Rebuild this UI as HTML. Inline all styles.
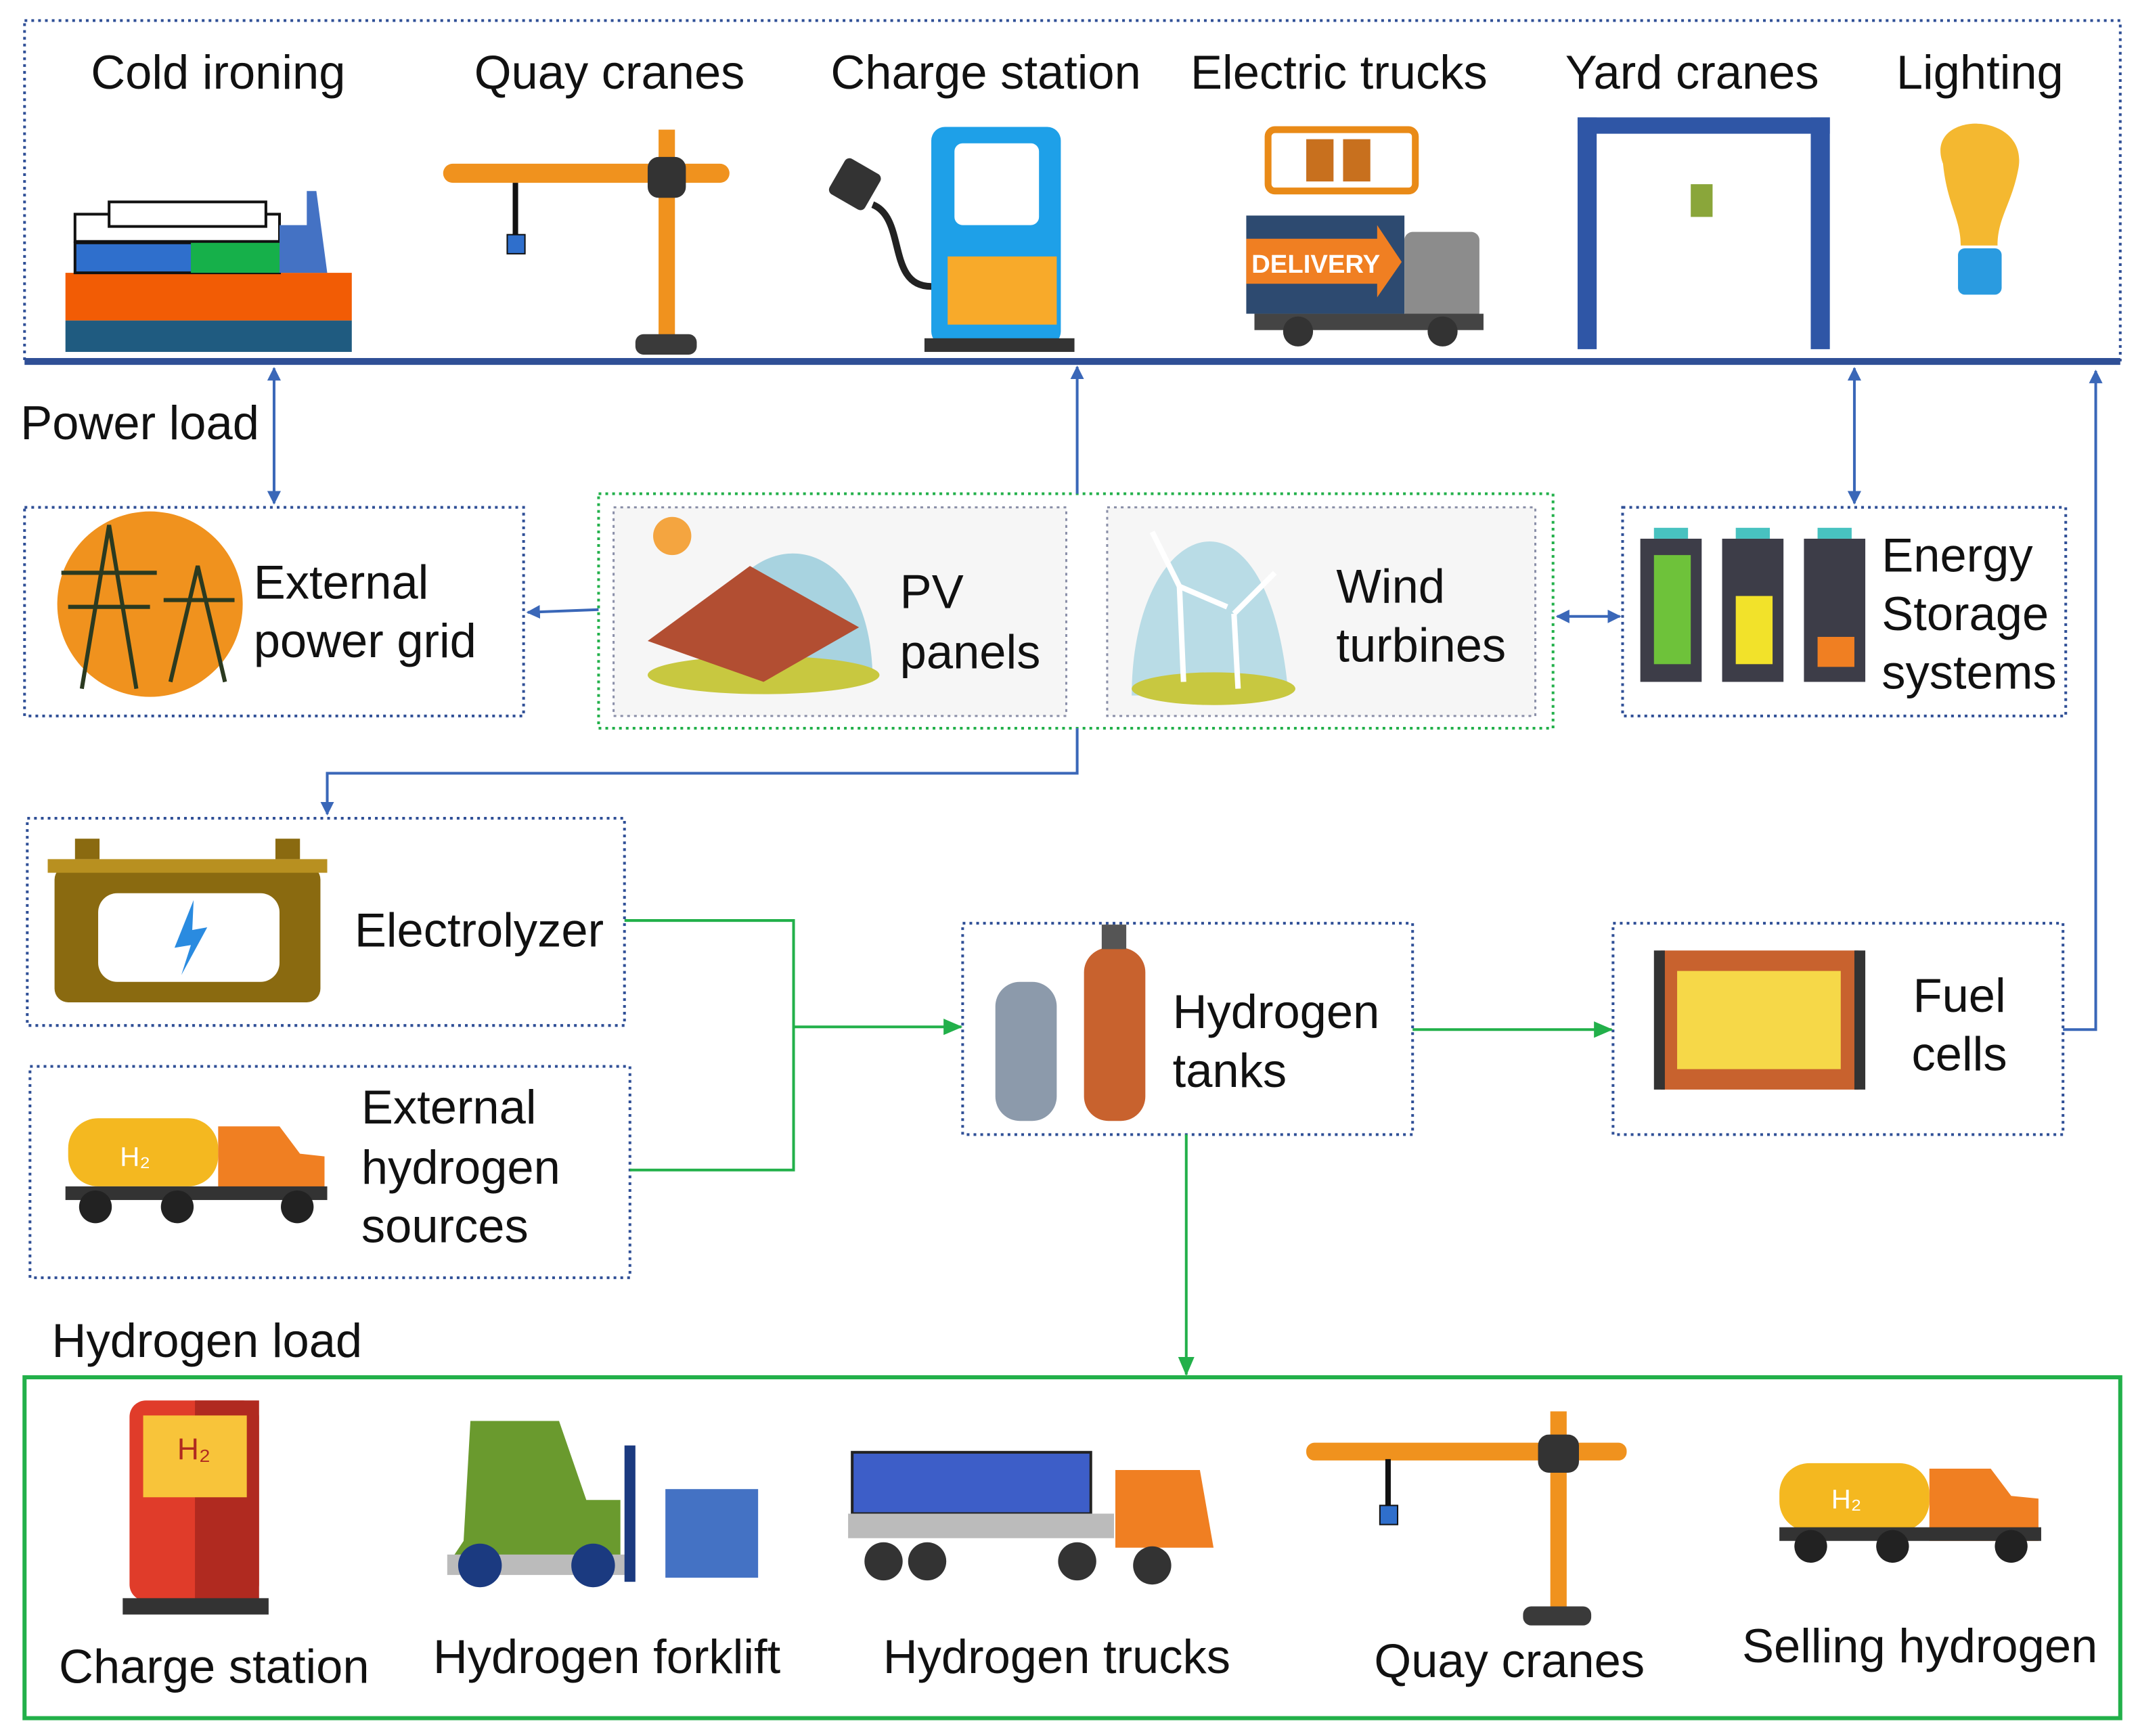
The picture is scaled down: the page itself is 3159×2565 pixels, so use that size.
<!DOCTYPE html>
<html><head><meta charset="utf-8"><style>
html,body{margin:0;padding:0;background:#fff}
svg{display:block}
text{font-family:"Liberation Sans",Arial,sans-serif;fill:#111}
</style></head><body>
<svg width="3159" height="2565" viewBox="0 0 1568 1273" xmlns="http://www.w3.org/2000/svg">
<defs>
<marker id="ab" markerWidth="10" markerHeight="10" refX="9" refY="5" orient="auto-start-reverse" markerUnits="userSpaceOnUse"><path d="M0,0 L10,5 L0,10 z" fill="#3a67b8"/></marker>
<marker id="ag" markerWidth="14" markerHeight="12" refX="13" refY="6" orient="auto" markerUnits="userSpaceOnUse"><path d="M0,0 L14,6 L0,12 z" fill="#22b04a"/></marker>
</defs>
<g fill="none" stroke="#2f4f96" stroke-width="2" stroke-dasharray="2,3">
<rect x="18" y="15" width="1537" height="250"/>
<rect x="18" y="372" width="366" height="153"/>
<rect x="1190" y="372" width="325" height="153"/>
<rect x="20" y="600" width="438" height="152"/>
<rect x="22" y="782" width="440" height="155"/>
<rect x="706" y="677" width="330" height="155"/>
<rect x="1183" y="677" width="330" height="155"/>
</g>
<rect x="439" y="362" width="700" height="172" fill="none" stroke="#22b04a" stroke-width="2" stroke-dasharray="2,3"/>
<rect x="450" y="372" width="332" height="153" fill="#f6f6f6" stroke="#8a8fa8" stroke-width="1.5" stroke-dasharray="2,3"/>
<rect x="812" y="372" width="314" height="153" fill="#f6f6f6" stroke="#8a8fa8" stroke-width="1.5" stroke-dasharray="2,3"/>
<line x1="18" y1="265" x2="1555" y2="265" stroke="#2f4f96" stroke-width="5"/>
<rect x="18" y="1010" width="1537" height="250" fill="none" stroke="#22b04a" stroke-width="3"/>
<g stroke="#3a67b8" stroke-width="2" fill="none">
<line x1="201" y1="270" x2="201" y2="369" marker-start="url(#ab)" marker-end="url(#ab)"/>
<line x1="790" y1="362" x2="790" y2="269" marker-end="url(#ab)"/>
<line x1="1360" y1="270" x2="1360" y2="369" marker-start="url(#ab)" marker-end="url(#ab)"/>
<polyline points="1513,755 1537,755 1537,272" marker-end="url(#ab)"/>
<line x1="439" y1="447" x2="387" y2="449" marker-end="url(#ab)"/>
<line x1="1142" y1="452" x2="1188" y2="452" marker-start="url(#ab)" marker-end="url(#ab)"/>
<polyline points="790,534 790,567 240,567 240,597" marker-end="url(#ab)"/>
</g>
<g stroke="#22b04a" stroke-width="2" fill="none">
<polyline points="458,675 582,675 582,858 462,858"/>
<line x1="582" y1="753" x2="705" y2="753" marker-end="url(#ag)"/>
<line x1="1036" y1="755" x2="1182" y2="755" marker-end="url(#ag)"/>
<line x1="870" y1="832" x2="870" y2="1008" marker-end="url(#ag)"/>
</g>
<g font-size="35" text-anchor="middle">
<text x="160" y="65">Cold ironing</text>
<text x="447" y="65">Quay cranes</text>
<text x="723" y="65">Charge station</text>
<text x="982" y="65">Electric trucks</text>
<text x="1241" y="65">Yard cranes</text>
<text x="1452" y="65">Lighting</text>
<text x="157" y="1234">Charge station</text>
<text x="445" y="1227">Hydrogen forklift</text>
<text x="775" y="1227">Hydrogen trucks</text>
<text x="1107" y="1230">Quay cranes</text>
<text x="1408" y="1219">Selling hydrogen</text>
<text x="1437" y="742">Fuel</text>
<text x="1437" y="785">cells</text>
</g>
<g font-size="35">
<text x="15" y="322">Power load</text>
<text x="38" y="995">Hydrogen load</text>
<text x="186" y="439">External</text>
<text x="186" y="482">power grid</text>
<text x="660" y="446">PV</text>
<text x="660" y="490">panels</text>
<text x="980" y="442">Wind</text>
<text x="980" y="485">turbines</text>
<text x="1380" y="419">Energy</text>
<text x="1380" y="462">Storage</text>
<text x="1380" y="505">systems</text>
<text x="260" y="694">Electrolyzer</text>
<text x="265" y="824">External</text>
<text x="265" y="868">hydrogen</text>
<text x="265" y="911">sources</text>
<text x="860" y="754">Hydrogen</text>
<text x="860" y="797">tanks</text>
</g>
<rect x="48" y="200" width="210" height="35" fill="#f25c05"/>
<rect x="48" y="235" width="210" height="23" fill="#1f5b80"/>
<g stroke="#111" stroke-width="2">
<rect x="55" y="178" width="150" height="22" fill="#2f6fcc"/>
<rect x="55" y="157" width="150" height="20" fill="#fff"/>
<rect x="80" y="148" width="115" height="18" fill="#fff"/>
</g>
<rect x="140" y="178" width="65" height="22" fill="#16b04a"/>
<path d="M205,200 L205,165 L225,165 L225,140 L232,140 L240,200 L258,200 Z" fill="#4472c4"/>
<rect x="325" y="120" width="210" height="14" rx="7" fill="#f0921e"/>
<rect x="483" y="95" width="12" height="155" fill="#f0921e"/>
<rect x="475" y="115" width="28" height="30" rx="8" fill="#333"/>
<rect x="466" y="245" width="45" height="15" rx="6" fill="#3a3a3a"/>
<line x1="378" y1="134" x2="378" y2="172" stroke="#111" stroke-width="4"/>
<rect x="372" y="172" width="13" height="14" fill="#2f6fcc" stroke="#111"/>
<rect x="683" y="93" width="95" height="160" rx="10" fill="#1ea0e8"/>
<rect x="700" y="105" width="62" height="60" rx="6" fill="#fff"/>
<rect x="695" y="188" width="80" height="50" fill="#f8aa2a"/>
<rect x="678" y="248" width="110" height="10" fill="#333"/>
<path d="M683,210 C650,210 665,160 640,150" stroke="#222" stroke-width="5" fill="none"/>
<rect x="612" y="120" width="30" height="30" rx="4" fill="#333" transform="rotate(30 627 135)"/>
<rect x="930" y="95" width="108" height="45" rx="5" fill="none" stroke="#e98a17" stroke-width="5"/>
<rect x="958" y="102" width="20" height="31" fill="#c8701e"/><rect x="985" y="102" width="20" height="31" fill="#c8701e"/>
<rect x="914" y="158" width="116" height="72" fill="#2d4a70"/>
<rect x="1030" y="170" width="55" height="65" rx="6" fill="#8c8c8c"/>
<path d="M914,175 L1010,175 L1010,165 L1028,192 L1010,218 L1010,208 L914,208 Z" fill="#f07f22"/>
<text x="965" y="200" font-size="19" font-weight="bold" text-anchor="middle" style="fill:#fff">DELIVERY</text>
<rect x="920" y="230" width="168" height="12" fill="#444"/>
<circle cx="952" cy="243" r="11" fill="#333"/><circle cx="1058" cy="243" r="11" fill="#333"/>
<g fill="#2f56a6"><rect x="1157" y="86" width="185" height="12"/><rect x="1157" y="86" width="14" height="170"/><rect x="1328" y="86" width="14" height="170"/></g>
<rect x="1240" y="135" width="16" height="24" fill="#8aa63a"/>
<path d="M1425,120 C1410,80 1490,80 1480,125 C1475,150 1465,160 1465,180 L1438,180 C1438,160 1428,150 1425,120Z" fill="#f4b830"/>
<rect x="1436" y="182" width="32" height="34" rx="5" fill="#2a9be0"/>
<circle cx="110" cy="443" r="68" fill="#f0921e"/>
<g stroke="#2b3a20" stroke-width="3" fill="none"><path d="M60,505 L80,385 L100,505 M45,420 L115,420 M50,445 L110,445"/><path d="M125,500 L145,415 L165,500 M120,440 L172,440"/></g>
<circle cx="493" cy="393" r="14" fill="#f4a540"/>
<path d="M520,470 C540,380 640,380 640,500 Z" fill="#a8d3e0"/>
<ellipse cx="560" cy="495" rx="85" ry="14" fill="#c8c840"/>
<path d="M475,470 L550,415 L630,460 L560,500 Z" fill="#b24e32"/>
<path d="M830,510 C830,380 930,340 945,510 Z" fill="#b9dce6"/>
<ellipse cx="890" cy="505" rx="60" ry="12" fill="#c8c840"/>
<g stroke="#fff" stroke-width="4"><line x1="865" y1="430" x2="868" y2="500"/><line x1="905" y1="450" x2="908" y2="505"/><line x1="865" y1="430" x2="845" y2="390"/><line x1="865" y1="430" x2="900" y2="445"/><line x1="905" y1="450" x2="935" y2="420"/></g>
<g><rect x="1203" y="395" width="45" height="105" fill="#3d3d48"/><rect x="1213" y="407" width="27" height="80" fill="#6ec23a"/>
<rect x="1263" y="395" width="45" height="105" fill="#3d3d48"/><rect x="1273" y="437" width="27" height="50" fill="#f2e22a"/>
<rect x="1323" y="395" width="45" height="105" fill="#3d3d48"/><rect x="1333" y="467" width="27" height="22" fill="#f07f22"/>
<g fill="#48c2c0"><rect x="1213" y="387" width="25" height="8"/><rect x="1273" y="387" width="25" height="8"/><rect x="1333" y="387" width="25" height="8"/></g></g>
<rect x="40" y="635" width="195" height="100" rx="10" fill="#8a6a10"/>
<rect x="35" y="630" width="205" height="10" fill="#b89020"/>
<rect x="55" y="615" width="18" height="15" fill="#8a6a10"/><rect x="202" y="615" width="18" height="15" fill="#8a6a10"/>
<rect x="72" y="655" width="133" height="65" rx="14" fill="#fff"/>
<path d="M142,660 L128,695 L140,693 L133,715 L152,680 L141,682 Z" fill="#2a8be0"/>
<rect x="50" y="820" width="110" height="50" rx="22" fill="#f4b820"/>
<path d="M160,826 L205,826 L220,846 L238,848 L238,878 L160,878 Z" fill="#f07f22"/>
<rect x="48" y="870" width="192" height="10" fill="#333"/>
<g fill="#222"><circle cx="70" cy="885" r="12"/><circle cx="130" cy="885" r="12"/><circle cx="218" cy="885" r="12"/></g>
<text x="88" y="855" font-size="20" style="fill:#fff">H₂</text>
<rect x="730" y="720" width="45" height="102" rx="18" fill="#8c9aab"/>
<rect x="795" y="695" width="45" height="127" rx="18" fill="#c8622e"/>
<rect x="808" y="678" width="18" height="18" fill="#555"/>
<rect x="1218" y="697" width="145" height="102" fill="#c8622e"/>
<rect x="1230" y="712" width="120" height="72" fill="#f6d848"/>
<rect x="1213" y="697" width="8" height="102" fill="#333"/><rect x="1360" y="697" width="8" height="102" fill="#333"/>
<rect x="95" y="1027" width="95" height="147" rx="12" fill="#e03c2a"/>
<rect x="143" y="1027" width="47" height="147" fill="#b02a20"/>
<rect x="105" y="1038" width="76" height="60" fill="#f8c43a"/>
<text x="130" y="1070" font-size="22" style="fill:#b02a20">H₂</text>
<rect x="90" y="1172" width="107" height="12" fill="#333"/>
<path d="M340,1130 L345,1042 L410,1042 L430,1100 L455,1100 L455,1145 L330,1145 Z" fill="#6a9a2e"/>
<rect x="328" y="1140" width="135" height="15" fill="#bbb"/>
<circle cx="352" cy="1148" r="16" fill="#1b3a80"/><circle cx="435" cy="1148" r="16" fill="#1b3a80"/>
<rect x="458" y="1060" width="8" height="100" fill="#1b3a80"/>
<rect x="488" y="1092" width="68" height="65" fill="#4472c4"/>
<rect x="625" y="1065" width="175" height="45" fill="#3d5ec8" stroke="#222" stroke-width="2"/>
<rect x="622" y="1110" width="195" height="18" fill="#bbb"/>
<path d="M818,1078 L880,1078 L890,1135 L818,1135 Z" fill="#f07f22"/>
<g fill="#333"><circle cx="648" cy="1145" r="14"/><circle cx="680" cy="1145" r="14"/><circle cx="790" cy="1145" r="14"/><circle cx="845" cy="1148" r="14"/></g>
<rect x="958" y="1058" width="235" height="13" rx="6" fill="#f0921e"/>
<rect x="1137" y="1035" width="12" height="150" fill="#f0921e"/>
<rect x="1128" y="1052" width="30" height="28" rx="8" fill="#333"/>
<rect x="1117" y="1178" width="50" height="14" rx="6" fill="#3a3a3a"/>
<line x1="1018" y1="1070" x2="1018" y2="1105" stroke="#111" stroke-width="4"/>
<rect x="1012" y="1104" width="13" height="14" fill="#2f6fcc" stroke="#111"/>
<rect x="1305" y="1073" width="110" height="50" rx="22" fill="#f4b820"/>
<path d="M1415,1077 L1460,1077 L1475,1097 L1495,1099 L1495,1130 L1415,1130 Z" fill="#f07f22"/>
<rect x="1305" y="1120" width="192" height="10" fill="#333"/>
<g fill="#222"><circle cx="1328" cy="1134" r="12"/><circle cx="1388" cy="1134" r="12"/><circle cx="1475" cy="1134" r="12"/></g>
<text x="1343" y="1106" font-size="20" style="fill:#fff">H₂</text>
</svg>
</body></html>
